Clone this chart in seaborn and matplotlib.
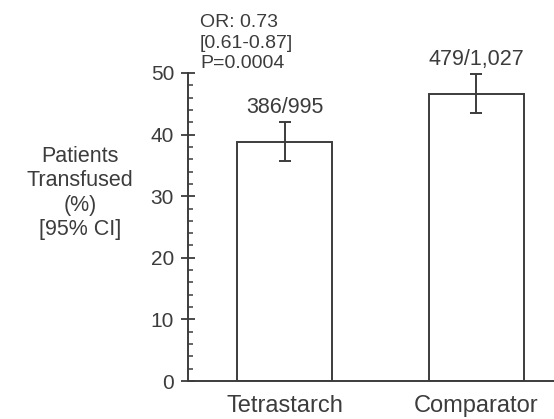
import matplotlib
matplotlib.use("Agg")
import matplotlib.pyplot as plt
from matplotlib.ticker import MultipleLocator
import seaborn as sns
import pandas as pd

# Transfusion rates by arm, with 95% confidence limits
groups = ["Tetrastarch", "Comparator"]
transfused = [386, 479]
totals = [995, 1027]
percent = [38.8, 46.6]
ci_low = [35.7, 43.5]
ci_high = [42.0, 49.8]
count_labels = ["386/995", "479/1,027"]
stats_text = "OR: 0.73\n[0.61-0.87]\nP=0.0004"

sns.set_theme(style="ticks")
plt.rcParams["font.family"] = ["Liberation Sans", "DejaVu Sans"]

ink = "#3c3c3c"

df = pd.DataFrame({"group": groups, "percent": percent})

fig = plt.figure(figsize=(5.54, 4.19), dpi=100)
ax = fig.add_axes([188 / 554, 38 / 419, 366 / 554, 308 / 419])

sns.barplot(data=df, x="group", y="percent", order=groups, errorbar=None,
            width=0.495, color="white", edgecolor=ink, linewidth=1.4, ax=ax)

x_pos = list(range(len(groups)))
lower_err = [p - lo for p, lo in zip(percent, ci_low)]
upper_err = [hi - p for p, hi in zip(percent, ci_high)]
ax.errorbar(x_pos, percent, yerr=[lower_err, upper_err], fmt="none",
            ecolor=ink, elinewidth=1.4, capsize=4, capthick=1.4, zorder=5)

for xp, hi, lab in zip(x_pos, ci_high, count_labels):
    ax.annotate(lab, xy=(xp, hi), xytext=(0, 7), textcoords="offset points",
                ha="center", va="baseline", fontsize=15.5, color=ink)

ax.set_xlim(-0.503, 1.404)
ax.set_ylim(0, 50)
ax.yaxis.set_major_locator(MultipleLocator(10))
ax.yaxis.set_minor_locator(MultipleLocator(2))

ax.tick_params(axis="y", which="major", direction="inout", length=10,
               width=1.3, color=ink, labelsize=15, labelcolor=ink, pad=5)
ax.tick_params(axis="y", which="minor", direction="in", length=3.5,
               width=1.1, color=ink)
ax.tick_params(axis="x", length=0, labelsize=17, labelcolor=ink, pad=10)

sns.despine(ax=ax)
for side in ("left", "bottom"):
    ax.spines[side].set_color(ink)
    ax.spines[side].set_linewidth(1.4)

ax.set_xlabel("")
ax.set_ylabel("Patients\nTransfused\n(%)\n[95% CI]", rotation=0,
              ha="center", va="center", fontsize=15.5, color=ink,
              linespacing=1.22)
ax.yaxis.set_label_coords(-0.295, 0.61)

fig.text(200 / 554, 1 - 14 / 419, stats_text, ha="left", va="top",
         fontsize=14, color=ink, linespacing=1.28)

fig.savefig("out.png", dpi=100)
